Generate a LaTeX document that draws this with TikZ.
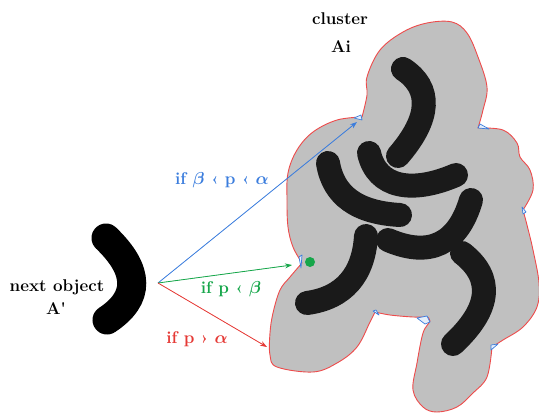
\documentclass[tikz,border=0pt]{standalone}
\usepackage{fontspec}
\usetikzlibrary{arrows.meta}
\definecolor{blobgray}{HTML}{C0C0C0}
\definecolor{outred}{HTML}{EE4B4B}
\definecolor{arrblue}{HTML}{3B7DDD}
\definecolor{arrgreen}{HTML}{16A64A}
\definecolor{arrred}{HTML}{E53935}
\definecolor{strokeblack}{HTML}{1A1A1A}
\definecolor{notchfill}{HTML}{E4EEFB}
\tikzset{
  lbl/.style={font=\fontsize{17}{20}\selectfont\bfseries\boldmath, inner sep=0pt},
  seg/.style={draw=strokeblack, line width=24pt, line cap=round},
  notch/.style={draw=arrblue, fill=notchfill, line width=0.7pt, line join=round},
  conn/.style={line width=0.8pt, -{Stealth[length=7pt,width=5pt]}},
}
\begin{document}
\begin{tikzpicture}[x=1pt,y=-1pt]
\useasboundingbox (0,0) rectangle (539,415);
% cluster blob
\path[fill=blobgray, draw=outred, line width=0.9pt, line join=round]
  plot[smooth, tension=0.6] coordinates {(362,117) (367,95) (367,77) (380,50) (403,32) (427,23) (452,22) (467,33) (478,57) (487,87) (483,110) (478,128)}
  -- plot[smooth, tension=0.6] coordinates {(478,128) (503,130) (517,143) (520,157) (530,170) (533,190) (523,210)}
  -- plot[smooth, tension=0.6] coordinates {(523,210) (527,225) (533,250) (539,283) (537,307) (523,327) (503,340) (492,347)}
  -- plot[smooth, tension=0.6] coordinates {(492,347) (487,377) (473,393) (457,407) (437,412) (423,407) (413,390) (417,363) (423,333) (430,321) (427,317)}
  -- plot[smooth, tension=0.6] coordinates {(427,317) (413,317) (390,315) (375,312)}
  -- plot[smooth, tension=0.6] coordinates {(375,312) (370,322) (357,347) (337,363) (313,372) (277,367) (270,355) (270,333) (273,313) (280,290) (290,277) (302,263)}
  -- plot[smooth, tension=0.6] coordinates {(302,263) (293,247) (288,227) (287,200) (288,173) (297,150) (313,132) (337,120) (362,117)}
  -- cycle;
% notches
\path[notch] (354,118) -- (361,115) -- (362,120) -- cycle;
\path[notch] (478,128) -- (480,124) -- (489,129) -- cycle;
\path[notch] (299,257) -- (302,255) -- (301,268) -- cycle;
\path[notch] (373,311) -- (376,310) -- (379,315) -- cycle;
\path[notch] (417,318) -- (427,316) -- (430,322) -- (425,324) -- cycle;
\path[notch] (491,345) -- (498,344) -- (491,350) -- cycle;
\path[notch] (522,207) -- (526,212) -- (523,214) -- cycle;
% strokes inside cluster
\draw[seg] (403,69) .. controls (432,88) and (431,118) .. (398,156);
\draw[seg] (369,153) .. controls (377,188) and (412,194) .. (456,175);
\draw[seg] (328,163) .. controls (333.3,195.7) and (357.3,212.7) .. (400,215);
\draw[seg] (471,200) .. controls (458,244) and (430,258) .. (388,240);
\draw[seg] (366,236) .. controls (363.7,274.7) and (344,298) .. (307,303);
\draw[seg] (462,253) .. controls (494.3,278) and (490.7,309) .. (453,344);
% next object
\draw[draw=black, line width=29pt, line cap=round] (106,238) .. controls (140,270.7) and (140.3,298) .. (107,320);
% named points
\coordinate (org) at (158,283);
\coordinate (tb) at (357,122);
\coordinate (tg) at (292,265);
\coordinate (tr) at (267,347);
\node[circle, fill=arrgreen, inner sep=0pt, minimum size=10pt] (dot) at (310,262) {};
% arrows
\draw[conn, draw=arrblue, fill=arrblue] (org) -- (tb);
\draw[conn, draw=arrgreen, fill=arrgreen] (org) -- (tg);
\draw[conn, draw=arrred, fill=arrred] (org) -- (tr);
% labels
\node[lbl] (cl) at (340,19) {cluster};
\node[lbl] (ai) at (341,47) {Ai};
\node[lbl] (no) at (57,287) {next object};
\node[lbl] (ap) at (56,309) {A\textquotesingle};
\node[lbl, text=arrblue] (lb) at (222,180) {if $\beta$ ‹ p ‹ $\alpha$};
\node[lbl, text=arrgreen] (lg) at (231,289) {if p ‹ $\beta$};
\node[lbl, text=arrred] (lr) at (197,339) {if p › $\alpha$};
\end{tikzpicture}
\end{document}
